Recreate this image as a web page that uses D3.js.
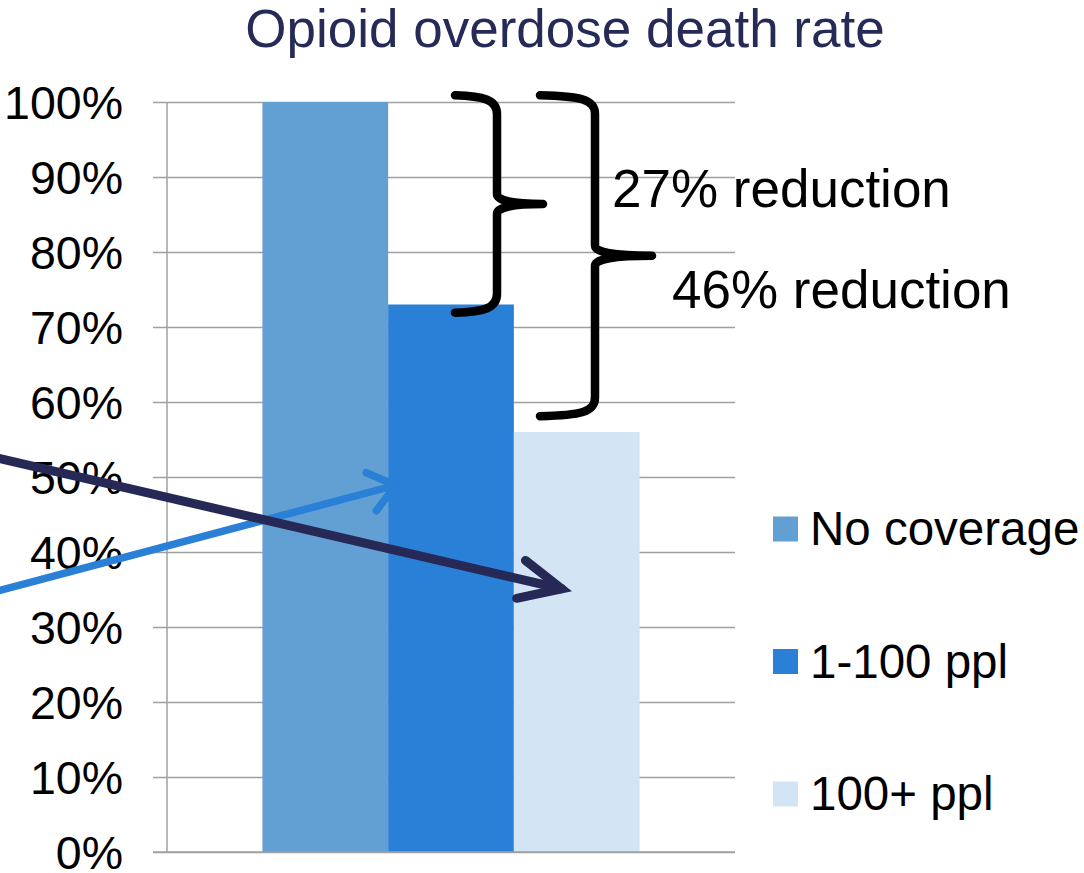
<!DOCTYPE html>
<html>
<head>
<meta charset="utf-8">
<script src="https://cdn.jsdelivr.net/npm/d3@7"></script>
<style>
  html, body { margin: 0; padding: 0; background: #ffffff; }
  svg { display: block; font-family: "Liberation Sans", Arial, sans-serif; }
</style>
</head>
<body>
<svg id="chart" width="1084" height="873"></svg>
<script>
// ---- data ----
const title = "Opioid overdose death rate";
const groups = [""];
const series = ["No coverage", "1-100 ppl", "100+ ppl"];
const values = [100, 73, 56];
const colors = ["#629fd2", "#2a7fd6", "#d3e4f5"];
const tickValues = [0, 10, 20, 30, 40, 50, 60, 70, 80, 90, 100];
const tickLabels = ["0%", "10%", "20%", "30%", "40%", "50%", "60%", "70%", "80%", "90%", "100%"];
// reduction braces: span from top value to bottom value (percent)
const braceTop = [100.5, 100.5];
const braceBottom = [72.3, 58.5];
const braceLabels = ["27% reduction", "46% reduction"];
// arrows: tip (series index, band fraction, value), start value at left edge
const arrowTipSeries = [2, 1];
const arrowTipFrac = [0.38, 0.06];
const arrowTipValue = [35.1, 48.9];
const arrowStartValue = [52.6, 34.7];
const arrowColors = ["#262856", "#2a7fd6"];

// ---- layout ----
const svg = d3.select("#chart");
const mLeft = 167, mRight = 735, mTop = 102, mBottom = 852;

const y = d3.scaleLinear().domain([0, 100]).range([mBottom, mTop]);
const x0 = d3.scaleBand().domain(groups).range([mLeft, mRight]).paddingInner(0).paddingOuter(0.253);
const x1 = d3.scaleBand().domain(series).range([0, x0.bandwidth()]);

// title
svg.append("text")
  .attr("x", 565).attr("y", 47)
  .attr("text-anchor", "middle")
  .attr("font-size", 53)
  .attr("fill", "#262a56")
  .text(title);

// gridlines + ticks
const grid = svg.append("g")
  .attr("transform", `translate(${mLeft},0)`)
  .call(d3.axisLeft(y).tickValues(tickValues).tickSize(-(mRight - mLeft)).tickFormat(""));
grid.select(".domain").remove();
grid.selectAll(".tick line").attr("stroke", "#a0a0a0").attr("stroke-width", 1.5).attr("x1", -14);

// y axis line
svg.append("line")
  .attr("x1", mLeft).attr("x2", mLeft).attr("y1", y(100)).attr("y2", y(0))
  .attr("stroke", "#a0a0a0").attr("stroke-width", 1.5);

// tick labels
svg.append("g").selectAll("text")
  .data(tickValues)
  .join("text")
  .attr("x", 123)
  .attr("y", d => y(d))
  .attr("dy", "0.36em")
  .attr("text-anchor", "end")
  .attr("font-size", 46.5)
  .attr("fill", "#000")
  .text((d, i) => tickLabels[i]);

// bars
svg.append("g").selectAll("rect")
  .data(series.map((s, i) => ({ s, v: values[i], c: colors[i] })))
  .join("rect")
  .attr("x", d => x0(groups[0]) + x1(d.s))
  .attr("y", d => y(d.v))
  .attr("width", x1.bandwidth())
  .attr("height", d => y(0) - y(d.v))
  .attr("fill", d => d.c);

// bottom axis line
svg.append("line")
  .attr("x1", mLeft - 14).attr("x2", mRight).attr("y1", y(0)).attr("y2", y(0))
  .attr("stroke", "#a0a0a0").attr("stroke-width", 1.5);

// braces
function bracePath(xa, xv, xt, y0, y1) {
  const ym = (y0 + y1) / 2;
  return `M${xa},${y0 - 3} C${xv - 14},${y0 - 2} ${xv},${y0 + 1} ${xv},${y0 + 16}` +
         ` L${xv},${ym - 10} Q${xv},${ym} ${xt},${ym}` +
         ` M${xt},${ym} Q${xv},${ym} ${xv},${ym + 10}` +
         ` L${xv},${y1 - 16} C${xv},${y1 - 1} ${xv - 14},${y1 + 2} ${xa},${y1 + 3}`;
}
const braceX = [[455, 497, 543], [540, 595, 652]];
svg.append("g").selectAll("path")
  .data(braceLabels.map((l, i) => i))
  .join("path")
  .attr("d", i => bracePath(braceX[i][0], braceX[i][1], braceX[i][2], y(braceTop[i]), y(braceBottom[i])))
  .attr("fill", "none")
  .attr("stroke", "#000")
  .attr("stroke-width", 8.5)
  .attr("stroke-linecap", "round")
  .attr("stroke-linejoin", "round");

// reduction labels
const labelPos = [[612, 207], [672, 308]];
svg.append("g").selectAll("text")
  .data(braceLabels)
  .join("text")
  .attr("x", (d, i) => labelPos[i][0])
  .attr("y", (d, i) => labelPos[i][1])
  .attr("font-size", 53)
  .attr("fill", "#000")
  .text(d => d);

// legend
const legend = svg.append("g").selectAll("g")
  .data(series.map((s, i) => ({ s, c: colors[i], i })))
  .join("g")
  .attr("transform", d => `translate(773, ${529 + d.i * 132.5})`);
legend.append("rect").attr("x", 0).attr("y", -12.5).attr("width", 25).attr("height", 25).attr("fill", d => d.c);
legend.append("text").attr("x", 37).attr("y", 16).attr("font-size", 47.5).attr("fill", "#000").text(d => d.s);

// arrows
const arrowWidths = [9, 7.5];
const arrowArm = [46, 32];
const arrowAngle = [25, 38];
const arrows = arrowColors.map((c, i) => {
  const tx = x0(groups[0]) + x1(series[arrowTipSeries[i]]) + arrowTipFrac[i] * x1.bandwidth();
  const ty = y(arrowTipValue[i]);
  const sx = -5, sy = y(arrowStartValue[i]);
  return { c, tx, ty, sx, sy, w: arrowWidths[i], arm: arrowArm[i], ang: arrowAngle[i] };
});
// draw light blue first, navy on top
[1, 0].forEach(i => {
  const a = arrows[i];
  const g = svg.append("g");
  const back = Math.atan2(a.sy - a.ty, a.sx - a.tx);
  const r = a.ang * Math.PI / 180;
  const p1 = [a.tx + a.arm * Math.cos(back + r), a.ty + a.arm * Math.sin(back + r)];
  const p2 = [a.tx + a.arm * Math.cos(back - r), a.ty + a.arm * Math.sin(back - r)];
  g.append("line")
    .attr("x1", a.sx).attr("y1", a.sy).attr("x2", a.tx).attr("y2", a.ty)
    .attr("stroke", a.c).attr("stroke-width", a.w).attr("stroke-linecap", "round");
  g.append("path")
    .attr("d", `M${p1[0]},${p1[1]} L${a.tx},${a.ty} L${p2[0]},${p2[1]}`)
    .attr("fill", "none").attr("stroke", a.c).attr("stroke-width", a.w)
    .attr("stroke-linecap", "round").attr("stroke-linejoin", "miter");
});
</script>
</body>
</html>
